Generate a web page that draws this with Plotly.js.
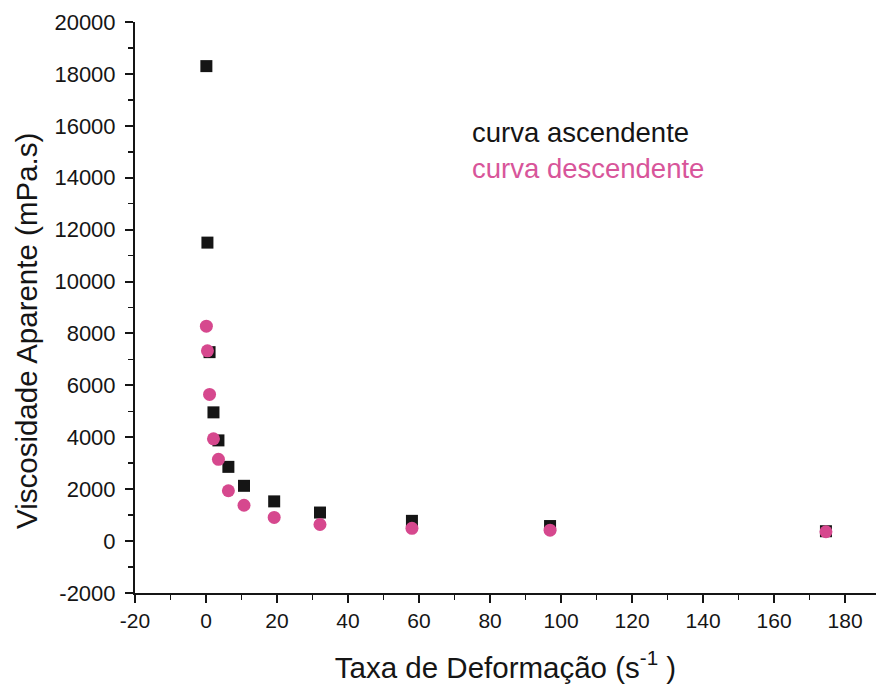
<!DOCTYPE html>
<html>
<head>
<meta charset="utf-8">
<script src="https://cdn.plot.ly/plotly-3.0.1.min.js"></script>
<style>
  html, body { margin: 0; padding: 0; background: #fff; }
  #chart { width: 876px; height: 692px; }
</style>
</head>
<body>
<div id="chart"></div>
<script>
// Shear rate (s^-1) for each reading
const taxaDeformacao = [0.1, 0.4, 1.0, 2.1, 3.5, 6.3, 10.7, 19.2, 32.1, 58, 96.9, 174.6];
// Apparent viscosity (mPa.s), increasing shear rate sweep
const viscosidadeAscendente = [18300, 11500, 7280, 4960, 3880, 2860, 2130, 1530, 1100, 780, 580, 380];
// Apparent viscosity (mPa.s), decreasing shear rate sweep
const viscosidadeDescendente = [8280, 7330, 5650, 3940, 3150, 1940, 1380, 910, 640, 490, 420, 360];

const xTicks = [-20, 0, 20, 40, 60, 80, 100, 120, 140, 160, 180];
const yTicks = [-2000, 0, 2000, 4000, 6000, 8000, 10000, 12000, 14000, 16000, 18000, 20000];

const fontFamily = '"Liberation Sans", Arial, sans-serif';
const pink = '#D6488E';
const ink = '#151515';

const traces = [
  {
    x: taxaDeformacao, y: viscosidadeAscendente,
    type: 'scatter', mode: 'markers', name: 'curva ascendente',
    marker: { symbol: 'square', size: 12, color: ink }
  },
  {
    x: taxaDeformacao, y: viscosidadeDescendente,
    type: 'scatter', mode: 'markers', name: 'curva descendente',
    marker: { symbol: 'circle', size: 13, color: pink }
  }
];

const axisCommon = {
  showgrid: false, zeroline: false, showline: true,
  linecolor: ink, linewidth: 2,
  ticks: 'outside', ticklen: 8, tickwidth: 2, tickcolor: ink
};

const layout = {
  width: 876, height: 692,
  margin: { l: 135, r: 0, t: 22, b: 99 },
  paper_bgcolor: '#fff', plot_bgcolor: '#fff',
  showlegend: false,
  xaxis: Object.assign({}, axisCommon, {
    range: [-20, 188.7], tickmode: 'array', tickvals: xTicks,
    ticktext: xTicks.map(String),
    tickfont: { family: fontFamily, size: 21, color: ink },
    minor: { ticks: 'outside', ticklen: 5, tickwidth: 1.5, tickcolor: ink, dtick: 10, tick0: 0 },
    title: { text: 'Taxa de Deformação (s<sup>-1</sup> )', standoff: 26,
             font: { family: fontFamily, size: 29.5, color: ink } }
  }),
  yaxis: Object.assign({}, axisCommon, {
    range: [-2000, 20000], tickmode: 'array', tickvals: yTicks,
    ticktext: yTicks.map(String),
    ticklabelstandoff: 5,
    tickfont: { family: fontFamily, size: 22, color: ink },
    minor: { ticks: 'outside', ticklen: 5, tickwidth: 1.5, tickcolor: ink, dtick: 1000, tick0: 0 }
  }),
  annotations: [
    // vertical axis title
    { text: 'Viscosidade Aparente (mPa.s)', xref: 'paper', yref: 'paper',
      x: -0.1457, y: 0.459, textangle: -90,
      xanchor: 'center', yanchor: 'middle', showarrow: false,
      font: { family: fontFamily, size: 29.5, color: ink } },
    { text: 'curva ascendente', xref: 'paper', yref: 'paper', x: 0.452, y: 0.806,
      xanchor: 'left', yanchor: 'middle', showarrow: false,
      font: { family: fontFamily, size: 27.5, color: ink } },
    { text: 'curva descendente', xref: 'paper', yref: 'paper', x: 0.452, y: 0.743,
      xanchor: 'left', yanchor: 'middle', showarrow: false,
      font: { family: fontFamily, size: 27.5, color: '#D8559A' } }
  ]
};

Plotly.newPlot('chart', traces, layout, { displayModeBar: false, staticPlot: true });
</script>
</body>
</html>
